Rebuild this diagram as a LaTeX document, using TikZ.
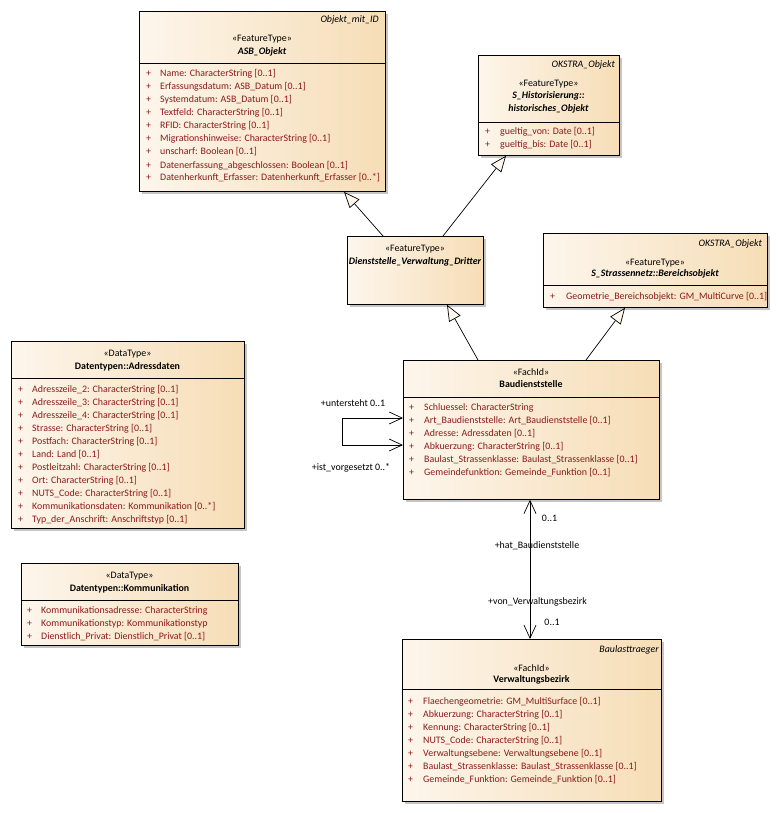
\documentclass[tikz,border=0pt]{standalone}
\usepackage{fontspec}
\setmainfont{Carlito}
\usetikzlibrary{calc,shadows,arrows.meta}
\definecolor{boxL}{HTML}{FDF6EC}
\definecolor{boxR}{HTML}{F6DDB6}
\definecolor{attr}{HTML}{8B1A1A}
\definecolor{trifill}{HTML}{FFF8EE}
\newcommand\umlfont{\fontsize{9.9}{12}\selectfont}
\tikzset{
  cls/.style={draw=black, line width=0.8pt, left color=boxL, right color=boxR,
    anchor=north west, inner sep=0pt,
    drop shadow={shadow xshift=3pt, shadow yshift=-3pt, fill=black!45, opacity=0.5}},
  txt/.style={inner sep=0pt, font=\umlfont},
  hdr/.style={txt, anchor=base},
  hdrbi/.style={txt, anchor=base, font=\umlfont\bfseries\itshape},
  hdrb/.style={txt, anchor=base, font=\umlfont\bfseries},
  hdrR/.style={txt, anchor=base east, font=\umlfont\itshape},
  att/.style={txt, anchor=base west, text=attr},
  lbl/.style={txt, anchor=base},
  divider/.style={draw=black, line width=0.8pt},
  gen/.style={draw=black, line width=0.7pt, -{Triangle[length=16pt, width=13pt, fill=trifill, line width=0.7pt]}},
  assoc/.style={draw=black, line width=0.7pt, {Straight Barb[length=13pt, width=12pt, line width=0.7pt]}-{Straight Barb[length=13pt, width=12pt, line width=0.7pt]}}
}
\newcommand\umlattrs[5]{%
  \foreach \t [count=\i] in {#5} {
    \node[att] (#1-\i) at (#3, {#4+13*(\i-1)}) {\t};
    \node[att] (#1-p\i) at (#2, {#4+13*(\i-1)}) {+};
  }}
\begin{document}
\begin{tikzpicture}[x=1pt,y=-1pt]
\useasboundingbox (0,0) rectangle (777,813);
\fill[white] (0,0) rectangle (777,813);

% ---------- ASB_Objekt
\node[cls, minimum width=246pt, minimum height=180pt] (asb) at (139,11) {};
\draw[divider] ($(asb.north west)+(0,52)$) -- ($(asb.north east)+(0,52)$);
\node[hdrR] (asb-ns) at (379,23) {Objekt\_mit\_ID};
\node[hdr] (asb-st) at (262,42) {«FeatureType»};
\node[hdrbi] (asb-nm) at (262,55) {ASB\_Objekt};
\umlattrs{asb}{146}{160}{77}{{Name: CharacterString [0..1]},{Erfassungsdatum: ASB\_Datum [0..1]},{Systemdatum: ASB\_Datum [0..1]},{Textfeld: CharacterString [0..1]},{RFID: CharacterString [0..1]},{Migrationshinweise: CharacterString [0..1]},{unscharf: Boolean [0..1]},{Datenerfassung\_abgeschlossen: Boolean [0..1]},{Datenherkunft\_Erfasser: Datenherkunft\_Erfasser [0..*]}}

% ---------- S_Historisierung
\node[cls, minimum width=141pt, minimum height=100pt] (hist) at (478,55) {};
\draw[divider] ($(hist.north west)+(0,67)$) -- ($(hist.north east)+(0,67)$);
\node[hdrR] (hist-ns) at (615,68) {OKSTRA\_Objekt};
\node[hdr] (hist-st) at (548.5,87) {«FeatureType»};
\node[hdrbi] (hist-nm1) at (548.5,99) {S\_Historisierung::};
\node[hdrbi] (hist-nm2) at (548.5,112) {historisches\_Objekt};
\umlattrs{hist}{485}{500}{135}{{gueltig\_von: Date [0..1]},{gueltig\_bis: Date [0..1]}}

% ---------- Dienststelle_Verwaltung_Dritter
\node[cls, minimum width=136pt, minimum height=68pt] (dienst) at (347,236) {};
\node[hdr] (dienst-st) at (415,251) {«FeatureType»};
\node[hdrbi] (dienst-nm) at (415,264) {Dienststelle\_Verwaltung\_Dritter};

% ---------- S_Strassennetz::Bereichsobjekt
\node[cls, minimum width=224pt, minimum height=74pt] (strn) at (543,233) {};
\draw[divider] ($(strn.north west)+(0,52)$) -- ($(strn.north east)+(0,52)$);
\node[hdrR] (strn-ns) at (762,246) {OKSTRA\_Objekt};
\node[hdr] (strn-st) at (655,265) {«FeatureType»};
\node[hdrbi] (strn-nm) at (655,276) {S\_Strassennetz::Bereichsobjekt};
\umlattrs{strn}{550}{566}{299}{{Geometrie\_Bereichsobjekt: GM\_MultiCurve [0..1]}}

% ---------- Adressdaten
\node[cls, minimum width=233pt, minimum height=187pt] (adr) at (11,341) {};
\draw[divider] ($(adr.north west)+(0,37)$) -- ($(adr.north east)+(0,37)$);
\node[hdr] (adr-st) at (127.5,356) {«DataType»};
\node[hdrb] (adr-nm) at (127.5,369) {Datentypen::Adressdaten};
\umlattrs{adr}{18}{32}{392}{{Adresszeile\_2: CharacterString [0..1]},{Adresszeile\_3: CharacterString [0..1]},{Adresszeile\_4: CharacterString [0..1]},{Strasse: CharacterString [0..1]},{Postfach: CharacterString [0..1]},{Land: Land [0..1]},{Postleitzahl: CharacterString [0..1]},{Ort: CharacterString [0..1]},{NUTS\_Code: CharacterString [0..1]},{Kommunikationsdaten: Kommunikation [0..*]},{Typ\_der\_Anschrift: Anschriftstyp [0..1]}}

% ---------- Kommunikation
\node[cls, minimum width=217pt, minimum height=82pt] (kom) at (21,563) {};
\draw[divider] ($(kom.north west)+(0,37)$) -- ($(kom.north east)+(0,37)$);
\node[hdr] (kom-st) at (129.5,578) {«DataType»};
\node[hdrb] (kom-nm) at (129.5,591) {Datentypen::Kommunikation};
\umlattrs{kom}{27}{41}{613}{{Kommunikationsadresse: CharacterString},{Kommunikationstyp: Kommunikationstyp},{Dienstlich\_Privat: Dienstlich\_Privat [0..1]}}

% ---------- Baudienststelle
\node[cls, minimum width=256pt, minimum height=139pt] (baud) at (403,360) {};
\draw[divider] ($(baud.north west)+(0,37)$) -- ($(baud.north east)+(0,37)$);
\node[hdr] (baud-st) at (531,375) {«FachId»};
\node[hdrb] (baud-nm) at (531,387) {Baudienststelle};
\umlattrs{baud}{409}{424}{410}{{Schluessel: CharacterString},{Art\_Baudienststelle: Art\_Baudienststelle [0..1]},{Adresse: Adressdaten [0..1]},{Abkuerzung: CharacterString [0..1]},{Baulast\_Strassenklasse: Baulast\_Strassenklasse [0..1]},{Gemeindefunktion: Gemeinde\_Funktion [0..1]}}

% ---------- Verwaltungsbezirk
\node[cls, minimum width=259pt, minimum height=162pt] (vbez) at (402,639) {};
\draw[divider] ($(vbez.north west)+(0,50)$) -- ($(vbez.north east)+(0,50)$);
\node[hdrR] (vbez-ns) at (659,652) {Baulasttraeger};
\node[hdr] (vbez-st) at (531.5,671) {«FachId»};
\node[hdrb] (vbez-nm) at (531.5,682) {Verwaltungsbezirk};
\umlattrs{vbez}{408}{423}{704}{{Flaechengeometrie: GM\_MultiSurface [0..1]},{Abkuerzung: CharacterString [0..1]},{Kennung: CharacterString [0..1]},{NUTS\_Code: CharacterString [0..1]},{Verwaltungsebene: Verwaltungsebene [0..1]},{Baulast\_Strassenklasse: Baulast\_Strassenklasse [0..1]},{Gemeinde\_Funktion: Gemeinde\_Funktion [0..1]}}

% ---------- generalizations
\draw[gen] ($(dienst.north west)+(36,0)$) -- ($(asb.south west)+(205,0)$);
\draw[gen] ($(dienst.north west)+(96,0)$) -- ($(hist.south west)+(28,0)$);
\draw[gen] ($(baud.north west)+(75,0)$) -- ($(dienst.south west)+(100,0)$);
\draw[gen] ($(baud.north west)+(183,0)$) -- ($(strn.south west)+(82,0)$);

% ---------- self association
\coordinate (selfA) at (342,418);
\coordinate (selfB) at (342,445);
\draw[assoc] ($(baud.north west)+(0,58)$) -- (selfA) -- (selfB) -- ($(baud.north west)+(0,85)$);
\node[lbl] (l-unt) at (353,406) {+untersteht 0..1};
\node[lbl] (l-ist) at (351,470) {+ist\_vorgesetzt 0..*};

% ---------- association Baudienststelle - Verwaltungsbezirk
\draw[assoc] ($(baud.south west)+(127,0)$) -- ($(vbez.north west)+(128,0)$);
\node[lbl] (l-m1) at (549.5,521) {0..1};
\node[lbl] (l-hat) at (537,548) {+hat\_Baudienststelle};
\node[lbl] (l-von) at (537.5,604) {+von\_Verwaltungsbezirk};
\node[lbl] (l-m2) at (552,625) {0..1};
\end{tikzpicture}
\end{document}
